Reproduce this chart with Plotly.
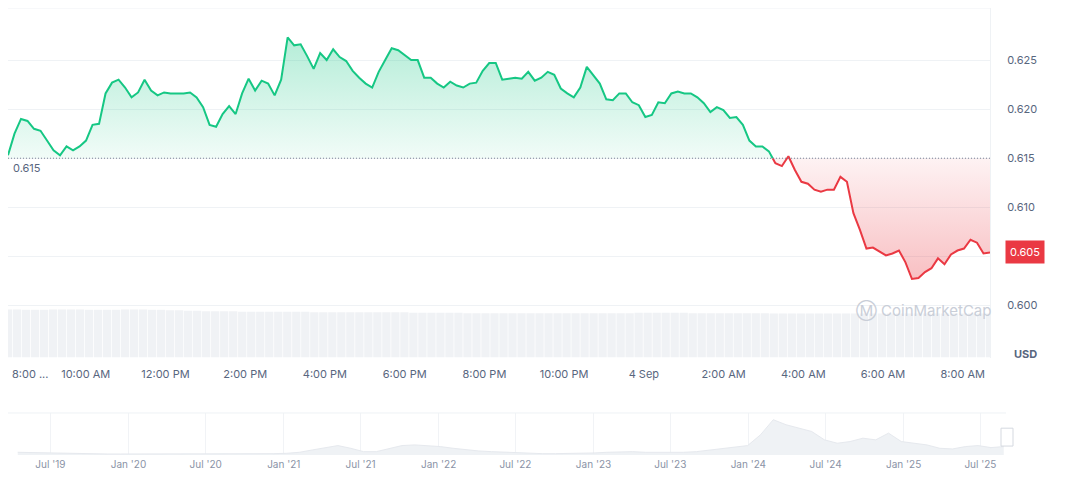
import plotly.graph_objects as go
import pandas as pd

START = "2025-09-03 08:03"
END = "2025-09-04 08:41"
BASE = 0.615

prices = [0.6153,0.6175,0.6190,0.6188,0.6180,0.6178,0.6168,0.6158,0.6153,0.6162,0.6158,0.6162,0.6168,0.6184,0.6185,
0.6216,0.6227,0.6230,0.6222,0.6212,0.6217,0.6230,0.6219,0.6214,0.6217,0.6216,0.6216,0.6216,0.6217,0.6212,0.6202,
0.6184,0.6182,0.6195,0.6203,0.6195,0.6216,0.6231,0.6219,0.6229,0.6226,0.6214,0.6230,0.6273,0.6265,0.6266,0.6254,
0.6241,0.6257,0.6250,0.6261,0.6253,0.6249,0.6239,0.6232,0.6226,0.6222,0.6238,0.6250,0.6262,0.6260,0.6255,0.6250,
0.6250,0.6232,0.6232,0.6226,0.6222,0.6228,0.6224,0.6222,0.6226,0.6227,0.6239,0.6247,0.6247,0.6230,0.6231,0.6232,
0.6231,0.6238,
0.6229,0.6232,0.6238,0.6235,0.6221,0.6216,0.6212,0.6222,0.6243,0.6235,0.6226,0.6210,0.6209,0.6216,0.6216,0.6207,
0.6204,0.6192,0.6194,0.6207,0.6206,0.6216,0.6218,0.6216,0.6216,0.6212,0.6206,0.6197,0.6202,0.6199,0.6191,0.6192,
0.6184,0.6168,0.6162,0.6162,0.6157,0.6145,0.6142,0.6152,0.6138,0.6126,0.6124,0.6118,0.6116,0.6118,0.6118,0.6131,
0.6126,0.6094,0.6077,0.6058,0.6059,0.6055,0.6051,0.6053,0.6056,0.6044,0.6027,0.6028,0.6034,0.6038,0.6048,0.6042,
0.6052,0.6056,0.6058,0.6067,0.6064,0.6053,0.6054]

volumes = [100,100,99,99,99,100,100,100,100,99,99,99,99,100,100,100,99,99,98,98,97,97,96,96,96,96,95,95,95,95,
95,95,95,95,94,94,94,94,94,94,94,94,94,94,94,93,93,93,93,93,93,92,92,92,92,92,92,92,92,92,
92,92,92,92,92,92,92,92,92,92,93,93,93,93,93,93,92,92,92,92,92,92,92,92,92,91,91,91,91,91,
91,91,91,91,91,91,91,91,91,91,91,91,91,91,91,91,91,91,91,91]

tick_times = ["2025-09-03 10:00","2025-09-03 12:00","2025-09-03 14:00","2025-09-03 16:00","2025-09-03 18:00",
"2025-09-03 20:00","2025-09-03 22:00","2025-09-04 00:00","2025-09-04 02:00","2025-09-04 04:00",
"2025-09-04 06:00","2025-09-04 08:00"]
tick_text = ["10:00 AM","12:00 PM","2:00 PM","4:00 PM","6:00 PM","8:00 PM","10:00 PM","4 Sep","2:00 AM","4:00 AM","6:00 AM","8:00 AM"]
price_ticks = [0.600,0.605,0.610,0.615,0.620,0.625]
price_tick_text = ["0.600","","0.610","0.615","0.620","0.625"]

hist_values = [8,7,6,5,5,4,4,3,3,
3,3,2,2,2,2,3,3,3,2,3,4,
5,8,15,22,28,20,10,10,18,28,30,28,
25,20,15,12,10,8,6,5,4,4,4,5,
6,8,10,10,8,8,7,8,10,15,20,25,
28,60,105,90,80,70,45,35,40,50,45,65,
40,35,30,20,18,25,28,22,25]
hist_ticks = ["2019-07-01","2020-01-01","2020-07-01","2021-01-01","2021-07-01","2022-01-01","2022-07-01",
"2023-01-01","2023-07-01","2024-01-01","2024-07-01","2025-01-01","2025-07-01"]
hist_text = ["Jul '19","Jan '20","Jul '20","Jan '21","Jul '21","Jan '22","Jul '22","Jan '23","Jul '23",
"Jan '24","Jul '24","Jan '25","Jul '25"]

GREEN = "#16c784"
RED = "#ea3943"
TXT = "#58667e"

t = pd.date_range(START, END, periods=len(prices))
tv = pd.date_range(START, END, periods=len(volumes))
th = pd.date_range("2019-04-15", "2025-08-25", periods=len(hist_values))

k = next(i for i, p in enumerate(prices) if p < BASE)
t0, t1 = t[k-1], t[k]
p0, p1 = prices[k-1], prices[k]
tc = t0 + (t1 - t0) * ((p0 - BASE) / (p0 - p1))

gx = list(t[:k]) + [tc]
gy = prices[:k] + [BASE]
rx = [tc] + list(t[k:])
ry = [BASE] + prices[k:]

fig = go.Figure()
fig.add_trace(go.Bar(x=tv, y=volumes, marker_color="#f0f2f5", marker_line_width=0,
                     xaxis="x", yaxis="y2", hoverinfo="skip"))
fig.add_trace(go.Scatter(x=gx, y=[BASE]*len(gx), mode="lines", line=dict(width=0), hoverinfo="skip"))
fig.add_trace(go.Scatter(x=gx, y=gy, mode="lines", line=dict(color=GREEN, width=2), fill="tonexty",
                         fillgradient=dict(type="vertical",
                                           colorscale=[[0, "rgba(22,199,132,0.06)"], [1, "rgba(22,199,132,0.32)"]])))
fig.add_trace(go.Scatter(x=rx, y=[BASE]*len(rx), mode="lines", line=dict(width=0), hoverinfo="skip"))
fig.add_trace(go.Scatter(x=rx, y=ry, mode="lines", line=dict(color=RED, width=2), fill="tonexty",
                         fillgradient=dict(type="vertical",
                                           colorscale=[[0, "rgba(234,57,67,0.32)"], [1, "rgba(234,57,67,0.06)"]])))
fig.add_trace(go.Scatter(x=[t[0], t[-1]], y=[BASE, BASE], mode="lines",
                         line=dict(color="#7a8396", width=1, dash="1px,2px"), hoverinfo="skip"))
fig.add_trace(go.Scatter(x=th, y=hist_values, mode="lines", line=dict(color="#e6e9ee", width=1),
                         fill="tozeroy", fillcolor="#eff2f5", xaxis="x2", yaxis="y3"))

MAIN_R = 982/1000
fig.update_layout(
    width=1064, height=469, showlegend=False, plot_bgcolor="white", paper_bgcolor="white",
    margin=dict(l=0, r=64, t=0, b=22),
    font=dict(family="Inter", size=11, color=TXT),
    bargap=0.08,
    xaxis=dict(domain=[0, MAIN_R], range=[START, END], tickvals=tick_times, ticktext=tick_text,
               showgrid=False, zeroline=False, ticks="", anchor="y", ticklabelstandoff=8,
               tickfont=dict(size=11, color=TXT)),
    yaxis=dict(domain=[0.218, 1], range=[0.5947, 0.6303], side="right", tickvals=price_ticks,
               ticktext=price_tick_text, gridcolor="#eff2f5", zeroline=False, ticklabelstandoff=14,
               showline=True, linecolor="#eff2f5", anchor="x"),
    yaxis2=dict(domain=[0.218, 0.218 + 0.108], range=[0, 100], visible=False, anchor="x"),
    xaxis2=dict(domain=[0, 1], range=["2019-03-23", "2025-09-04"], anchor="y3", tickvals=hist_ticks,
                ticktext=hist_text, showgrid=True, gridcolor="#f1f3f6", zeroline=False,
                ticklabelstandoff=2, tickfont=dict(size=10, color="#8a93a6")),
    yaxis3=dict(domain=[0, 0.094], range=[0, 125], visible=False, anchor="x2"),
    shapes=[
        dict(type="line", xref="paper", yref="paper", x0=0, x1=MAIN_R, y0=1, y1=1, line=dict(color="#eff2f5", width=1)),
        dict(type="line", xref="paper", yref="paper", x0=0, x1=0.998, y0=0.094, y1=0.094, line=dict(color="#eff2f5", width=1)),
        dict(type="rect", xref="paper", yref="paper", x0=0.993, x1=1.005, y0=0.02, y1=0.06,
             fillcolor="white", line=dict(color="#d5d9e0", width=1)),
    ],
    annotations=[
        dict(text="0.615", x=0, xref="paper", y=BASE, yref="y", xanchor="left", yanchor="top", showarrow=False,
             bgcolor="white", font=dict(size=11, color=TXT), xshift=3, yshift=-1),
        dict(text="0.605", x=MAIN_R, xref="paper", y=prices[-1], yref="y", xanchor="left", showarrow=False,
             bgcolor=RED, borderpad=4, font=dict(size=11, color="white"), xshift=15),
        dict(text="<b>USD</b>", x=1.0, xref="paper", y=0.5951, yref="y", xanchor="left", showarrow=False,
             font=dict(size=11, color=TXT), xshift=4),
        dict(text="8:00 ...", x=0.002, xref="paper", y=0.218, yref="paper", xanchor="left", yanchor="top",
             showarrow=False, font=dict(size=11, color=TXT), yshift=-7),
        dict(text="Ⓜ CoinMarketCap", x=0.985, xref="paper", y=0.5995, yref="y", xanchor="right", showarrow=False,
             font=dict(size=15, color="#c9ced8")),
    ],
)
fig.write_html("out.html")
